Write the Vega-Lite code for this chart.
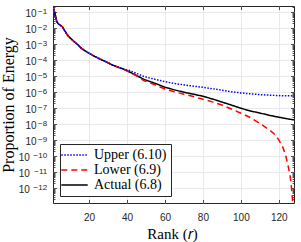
{
  "$schema": "https://vega.github.io/schema/vega-lite/v6.json",
  "width": 241,
  "height": 197,
  "autosize": {"type": "none"},
  "padding": {"left": 53, "top": 6, "right": 7, "bottom": 39},
  "background": "white",
  "data": {"values": [
    {"r":1,"v":0.24,"s":"Actual (6.8)"},{"r":2,"v":0.089,"s":"Actual (6.8)"},{"r":3,"v":0.0251,"s":"Actual (6.8)"},{"r":4,"v":0.0182,"s":"Actual (6.8)"},{"r":5,"v":0.0151,"s":"Actual (6.8)"},{"r":6,"v":0.012,"s":"Actual (6.8)"},{"r":7,"v":0.00759,"s":"Actual (6.8)"},{"r":8,"v":0.00479,"s":"Actual (6.8)"},{"r":9,"v":0.00331,"s":"Actual (6.8)"},{"r":10,"v":0.00251,"s":"Actual (6.8)"},{"r":12,"v":0.00151,"s":"Actual (6.8)"},{"r":14,"v":0.000955,"s":"Actual (6.8)"},{"r":16,"v":0.00055,"s":"Actual (6.8)"},{"r":18,"v":0.00038,"s":"Actual (6.8)"},{"r":20,"v":0.000275,"s":"Actual (6.8)"},{"r":23,"v":0.000174,"s":"Actual (6.8)"},{"r":26,"v":0.000115,"s":"Actual (6.8)"},{"r":29,"v":7.94e-5,"s":"Actual (6.8)"},{"r":32,"v":5.25e-5,"s":"Actual (6.8)"},{"r":35,"v":3.8e-5,"s":"Actual (6.8)"},{"r":38,"v":2.82e-5,"s":"Actual (6.8)"},
    {"r":41,"v":1.95e-5,"s":"Actual (6.8)"},{"r":45,"v":1.12e-5,"s":"Actual (6.8)"},{"r":49,"v":6.31e-6,"s":"Actual (6.8)"},{"r":55,"v":3.55e-6,"s":"Actual (6.8)"},{"r":60,"v":2.04e-6,"s":"Actual (6.8)"},{"r":65,"v":1.41e-6,"s":"Actual (6.8)"},{"r":70,"v":1.0e-6,"s":"Actual (6.8)"},{"r":75,"v":7.59e-7,"s":"Actual (6.8)"},{"r":80,"v":5.62e-7,"s":"Actual (6.8)"},{"r":85,"v":3.8e-7,"s":"Actual (6.8)"},{"r":90,"v":2.45e-7,"s":"Actual (6.8)"},{"r":95,"v":1.58e-7,"s":"Actual (6.8)"},{"r":100,"v":1.0e-7,"s":"Actual (6.8)"},{"r":105,"v":6.76e-8,"s":"Actual (6.8)"},{"r":110,"v":5.01e-8,"s":"Actual (6.8)"},{"r":115,"v":3.63e-8,"s":"Actual (6.8)"},{"r":120,"v":2.75e-8,"s":"Actual (6.8)"},{"r":125,"v":2.14e-8,"s":"Actual (6.8)"},{"r":128,"v":1.86e-8,"s":"Actual (6.8)"},
    {"r":1,"v":0.24,"s":"Lower (6.9)"},{"r":2,"v":0.089,"s":"Lower (6.9)"},{"r":3,"v":0.0251,"s":"Lower (6.9)"},{"r":4,"v":0.0182,"s":"Lower (6.9)"},{"r":5,"v":0.0151,"s":"Lower (6.9)"},{"r":6,"v":0.012,"s":"Lower (6.9)"},{"r":7,"v":0.00759,"s":"Lower (6.9)"},{"r":8,"v":0.00479,"s":"Lower (6.9)"},{"r":9,"v":0.00331,"s":"Lower (6.9)"},{"r":10,"v":0.00251,"s":"Lower (6.9)"},{"r":12,"v":0.00151,"s":"Lower (6.9)"},{"r":14,"v":0.000955,"s":"Lower (6.9)"},{"r":16,"v":0.00055,"s":"Lower (6.9)"},{"r":18,"v":0.00038,"s":"Lower (6.9)"},{"r":20,"v":0.000275,"s":"Lower (6.9)"},{"r":23,"v":0.000174,"s":"Lower (6.9)"},{"r":26,"v":0.000115,"s":"Lower (6.9)"},{"r":29,"v":7.94e-5,"s":"Lower (6.9)"},{"r":32,"v":5.25e-5,"s":"Lower (6.9)"},{"r":35,"v":3.8e-5,"s":"Lower (6.9)"},{"r":38,"v":2.82e-5,"s":"Lower (6.9)"},
    {"r":41,"v":1.86e-5,"s":"Lower (6.9)"},{"r":45,"v":1.05e-5,"s":"Lower (6.9)"},{"r":49,"v":5.25e-6,"s":"Lower (6.9)"},{"r":55,"v":2.82e-6,"s":"Lower (6.9)"},{"r":60,"v":1.58e-6,"s":"Lower (6.9)"},{"r":65,"v":1.07e-6,"s":"Lower (6.9)"},{"r":70,"v":7.41e-7,"s":"Lower (6.9)"},{"r":75,"v":5.37e-7,"s":"Lower (6.9)"},{"r":80,"v":3.63e-7,"s":"Lower (6.9)"},{"r":85,"v":2.51e-7,"s":"Lower (6.9)"},{"r":90,"v":1.58e-7,"s":"Lower (6.9)"},{"r":95,"v":8.91e-8,"s":"Lower (6.9)"},{"r":100,"v":4.9e-8,"s":"Lower (6.9)"},{"r":105,"v":2.63e-8,"s":"Lower (6.9)"},{"r":110,"v":1.12e-8,"s":"Lower (6.9)"},{"r":115,"v":4.47e-9,"s":"Lower (6.9)"},{"r":118,"v":2.24e-9,"s":"Lower (6.9)"},{"r":120,"v":1.07e-9,"s":"Lower (6.9)"},{"r":122,"v":3.98e-10,"s":"Lower (6.9)"},{"r":123.5,"v":1.26e-10,"s":"Lower (6.9)"},{"r":124.6,"v":3.63e-11,"s":"Lower (6.9)"},{"r":125.9,"v":6.76e-12,"s":"Lower (6.9)"},{"r":126.7,"v":1.0e-12,"s":"Lower (6.9)"},{"r":127.2,"v":1.86e-13,"s":"Lower (6.9)"},{"r":127.6,"v":1.0e-14,"s":"Lower (6.9)"},
    {"r":1,"v":0.24,"s":"Upper (6.10)"},{"r":2,"v":0.089,"s":"Upper (6.10)"},{"r":3,"v":0.0251,"s":"Upper (6.10)"},{"r":4,"v":0.0182,"s":"Upper (6.10)"},{"r":5,"v":0.0151,"s":"Upper (6.10)"},{"r":6,"v":0.012,"s":"Upper (6.10)"},{"r":7,"v":0.00759,"s":"Upper (6.10)"},{"r":8,"v":0.00479,"s":"Upper (6.10)"},{"r":9,"v":0.00331,"s":"Upper (6.10)"},{"r":10,"v":0.00251,"s":"Upper (6.10)"},{"r":12,"v":0.00151,"s":"Upper (6.10)"},{"r":14,"v":0.000955,"s":"Upper (6.10)"},{"r":16,"v":0.00055,"s":"Upper (6.10)"},{"r":18,"v":0.00038,"s":"Upper (6.10)"},{"r":20,"v":0.000275,"s":"Upper (6.10)"},{"r":23,"v":0.000174,"s":"Upper (6.10)"},{"r":26,"v":0.000115,"s":"Upper (6.10)"},{"r":29,"v":7.94e-5,"s":"Upper (6.10)"},{"r":32,"v":5.25e-5,"s":"Upper (6.10)"},{"r":35,"v":3.8e-5,"s":"Upper (6.10)"},{"r":38,"v":2.82e-5,"s":"Upper (6.10)"},
    {"r":41,"v":2.34e-5,"s":"Upper (6.10)"},{"r":45,"v":1.51e-5,"s":"Upper (6.10)"},{"r":49,"v":9.55e-6,"s":"Upper (6.10)"},{"r":55,"v":6.31e-6,"s":"Upper (6.10)"},{"r":60,"v":4.57e-6,"s":"Upper (6.10)"},{"r":65,"v":3.55e-6,"s":"Upper (6.10)"},{"r":70,"v":2.88e-6,"s":"Upper (6.10)"},{"r":75,"v":2.4e-6,"s":"Upper (6.10)"},{"r":80,"v":2.04e-6,"s":"Upper (6.10)"},{"r":85,"v":1.66e-6,"s":"Upper (6.10)"},{"r":90,"v":1.32e-6,"s":"Upper (6.10)"},{"r":95,"v":1.07e-6,"s":"Upper (6.10)"},{"r":100,"v":9.12e-7,"s":"Upper (6.10)"},{"r":105,"v":7.94e-7,"s":"Upper (6.10)"},{"r":110,"v":7.08e-7,"s":"Upper (6.10)"},{"r":115,"v":6.61e-7,"s":"Upper (6.10)"},{"r":120,"v":6.17e-7,"s":"Upper (6.10)"},{"r":125,"v":6.03e-7,"s":"Upper (6.10)"},{"r":128,"v":5.89e-7,"s":"Upper (6.10)"}
  ]},
  "encoding": {
    "x": {"field": "r", "type": "quantitative", "scale": {"domain": [1, 128], "nice": false, "zero": false}},
    "y": {"field": "v", "type": "quantitative", "scale": {"type": "log", "domain": [1.2e-13, 0.245], "nice": false}}
  },
  "layer": [
    {
      "mark": {"type": "line", "clip": true},
      "encoding": {
        "x": {"field": "r", "type": "quantitative", "axis": {"orient": "bottom", "values": [20, 40, 60, 80, 100, 120], "grid": true, "ticks": false, "labelPadding": 9, "labelFlush": false, "title": "Rank (𝑟)", "titleFontSize": 15, "titleX": 119, "titleY": 35, "titleBaseline": "alphabetic", "titleAnchor": "middle", "titleAlign": "center"}},
        "y": {"field": "v", "type": "quantitative", "axis": {
          "orient": "left",
          "values": [1e-12,1e-11,1e-10,1e-9,1e-8,1e-7,1e-6,1e-5,1e-4,1e-3,1e-2,1e-1],
          "grid": true,
          "ticks": false,
          "labelExpr": "'10'",
          "labelOverlap": false,
          "labelPadding": {"condition": {"test": "-round(log(datum.value)/LN10) >= 10", "value": 23.7}, "value": 17},
          "labelOffset": 1.5,
          "labelFlush": false,
          "title": "Proportion of Energy",
          "titleX": -40,
          "titleY": 98.5,
          "titleBaseline": "alphabetic",
          "titleAlign": "center"
        }},
        "color": {"field": "s", "type": "nominal", "scale": {"domain": ["Upper (6.10)", "Lower (6.9)", "Actual (6.8)"], "range": ["#0000ff", "#ff0000", "#000000"]}, "legend": {"title": null}},
        "strokeDash": {"field": "s", "type": "nominal", "scale": {"domain": ["Upper (6.10)", "Lower (6.9)", "Actual (6.8)"], "range": [[1.5, 1.5], [6, 4], [1, 0]]}, "legend": {"title": null}},
        "strokeWidth": {"field": "s", "type": "nominal", "scale": {"domain": ["Upper (6.10)", "Lower (6.9)", "Actual (6.8)"], "range": [1.5, 1.5, 2.6]}, "legend": {"title": null}}
      }
    },
    {
      "mark": {"type": "point", "opacity": 0},
      "encoding": {
        "x": {"field": "r", "type": "quantitative", "axis": {"orient": "top", "values": [20, 40, 60, 80, 100, 120], "grid": false, "labels": false, "tickSize": -3.5, "title": null}},
        "y": {"field": "v", "type": "quantitative", "axis": {
          "orient": "right",
          "values": [2e-13,3e-13,4e-13,5e-13,6e-13,7e-13,8e-13,9e-13,1e-12,2e-12,3e-12,4e-12,5e-12,6e-12,7e-12,8e-12,9e-12,1e-11,2e-11,3e-11,4e-11,5e-11,6e-11,7e-11,8e-11,9e-11,1e-10,2e-10,3e-10,4e-10,5e-10,6e-10,7e-10,8e-10,9e-10,1e-9,2e-9,3e-9,4e-9,5e-9,6e-9,7e-9,8e-9,9e-9,1e-8,2e-8,3e-8,4e-8,5e-8,6e-8,7e-8,8e-8,9e-8,1e-7,2e-7,3e-7,4e-7,5e-7,6e-7,7e-7,8e-7,9e-7,1e-6,2e-6,3e-6,4e-6,5e-6,6e-6,7e-6,8e-6,9e-6,1e-5,2e-5,3e-5,4e-5,5e-5,6e-5,7e-5,8e-5,9e-5,1e-4,2e-4,3e-4,4e-4,5e-4,6e-4,7e-4,8e-4,9e-4,1e-3,2e-3,3e-3,4e-3,5e-3,6e-3,7e-3,8e-3,9e-3,1e-2,2e-2,3e-2,4e-2,5e-2,6e-2,7e-2,8e-2,9e-2,1e-1,2e-1],
          "grid": false,
          "labels": false,
          "tickSize": {"condition": {"test": "abs(log(datum.value)/LN10 - round(log(datum.value)/LN10)) < 0.001", "value": -3.5}, "value": -2},
          "title": null
        }}
      }
    },
    {
      "mark": {"type": "point", "opacity": 0},
      "encoding": {
        "x": {"field": "r", "type": "quantitative", "axis": {"orient": "bottom", "values": [20, 40, 60, 80, 100, 120], "grid": false, "labels": false, "tickSize": -3.5, "title": null}},
        "y": {"field": "v", "type": "quantitative", "axis": {
          "orient": "left",
          "values": [2e-13,3e-13,4e-13,5e-13,6e-13,7e-13,8e-13,9e-13,1e-12,2e-12,3e-12,4e-12,5e-12,6e-12,7e-12,8e-12,9e-12,1e-11,2e-11,3e-11,4e-11,5e-11,6e-11,7e-11,8e-11,9e-11,1e-10,2e-10,3e-10,4e-10,5e-10,6e-10,7e-10,8e-10,9e-10,1e-9,2e-9,3e-9,4e-9,5e-9,6e-9,7e-9,8e-9,9e-9,1e-8,2e-8,3e-8,4e-8,5e-8,6e-8,7e-8,8e-8,9e-8,1e-7,2e-7,3e-7,4e-7,5e-7,6e-7,7e-7,8e-7,9e-7,1e-6,2e-6,3e-6,4e-6,5e-6,6e-6,7e-6,8e-6,9e-6,1e-5,2e-5,3e-5,4e-5,5e-5,6e-5,7e-5,8e-5,9e-5,1e-4,2e-4,3e-4,4e-4,5e-4,6e-4,7e-4,8e-4,9e-4,1e-3,2e-3,3e-3,4e-3,5e-3,6e-3,7e-3,8e-3,9e-3,1e-2,2e-2,3e-2,4e-2,5e-2,6e-2,7e-2,8e-2,9e-2,1e-1,2e-1],
          "grid": false,
          "labels": false,
          "tickSize": {"condition": {"test": "abs(log(datum.value)/LN10 - round(log(datum.value)/LN10)) < 0.001", "value": -3.5}, "value": -2},
          "title": null
        }}
      }
    },
    {
      "mark": {"type": "point", "opacity": 0},
      "encoding": {
        "x": {"field": "r", "type": "quantitative", "axis": null},
        "y": {"field": "v", "type": "quantitative", "axis": {
          "orient": "left",
          "values": [1e-12,1e-11,1e-10,1e-9,1e-8,1e-7,1e-6,1e-5,1e-4,1e-3,1e-2,1e-1],
          "grid": false,
          "ticks": false,
          "labelExpr": "'−' + (-round(log(datum.value)/LN10))",
          "labelFontSize": 8,
          "labelOverlap": false,
          "labelPadding": 6.3,
          "labelOffset": -1,
          "labelFlush": false,
          "title": null
        }}
      }
    }
  ],
  "resolve": {"axis": {"x": "independent", "y": "independent"}},
  "config": {
    "view": {"stroke": "#262626", "strokeWidth": 1},
    "axis": {
      "domain": false,
      "labelFont": "Liberation Sans",
      "labelFontSize": 10,
      "labelColor": "#262626",
      "tickColor": "#262626",
      "tickWidth": 0.8,
      "gridColor": "#e3e3e3",
      "gridWidth": 0.8,
      "titleFont": "Liberation Serif",
      "titleFontSize": 16,
      "titleFontWeight": "normal",
      "titleColor": "#000000"
    },
    "legend": {
      "orient": "none",
      "legendX": 7,
      "legendY": 138,
      "padding": 4,
      "fillColor": "white",
      "strokeColor": "#262626",
      "cornerRadius": 0,
      "symbolType": "M-2.2,0H2.2",
      "symbolSize": 144,
      "symbolOffset": 3.5,
      "labelOffset": 12.5,
      "rowPadding": 1,
      "labelFont": "Liberation Serif",
      "labelFontSize": 14,
      "labelColor": "#000000",
      "labelLimit": 0
    }
  }
}
